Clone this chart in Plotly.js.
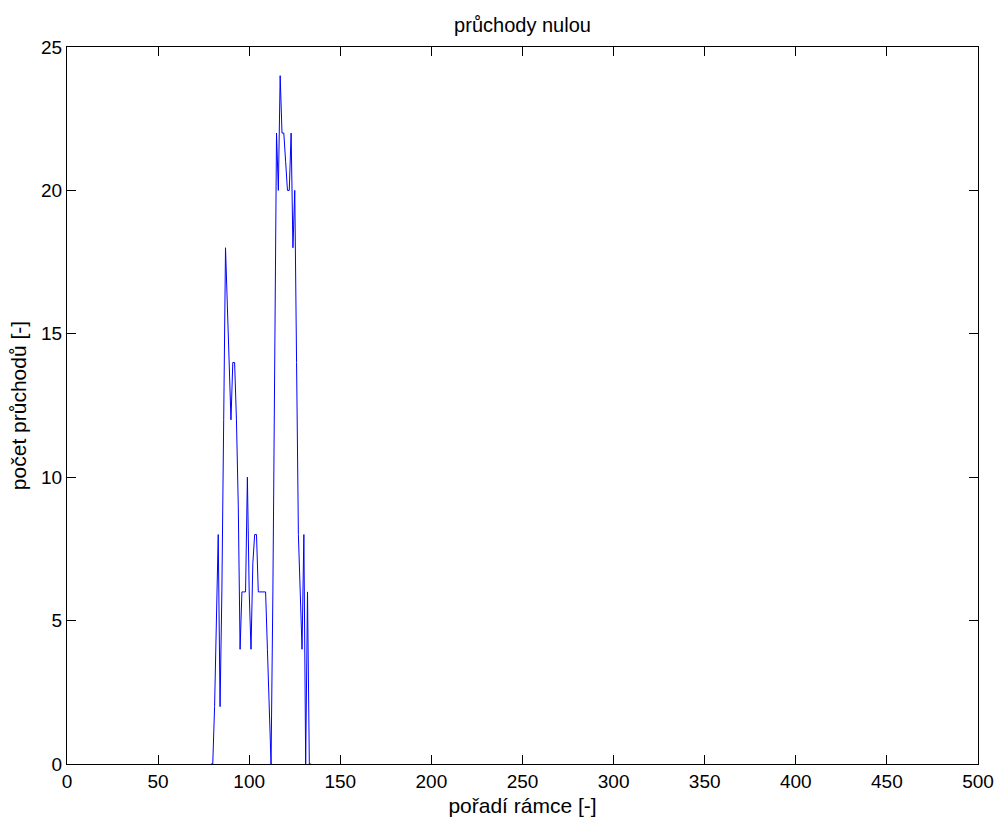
<!DOCTYPE html>
<html>
<head>
<meta charset="utf-8">
<script src="https://cdn.plot.ly/plotly-3.0.1.min.js"></script>
<style>html,body{margin:0;padding:0;background:#fff;}#chart{width:998px;height:820px;}</style>
</head>
<body>
<div id="chart"></div>
<script>
// frame index (pořadí rámce)
var frames = [79, 80, 81, 82, 83, 84, 85, 86, 87, 88, 89, 90, 91, 92, 93, 94, 95, 96, 97, 98,
              99, 100, 101, 102, 103, 104, 105, 106, 107, 108, 109, 110, 111, 112, 113, 114, 115, 116, 117, 118,
              119, 120, 121, 122, 123, 124, 125, 126, 127, 128, 129, 130, 131, 132, 133, 134];
// zero crossings per frame (počet průchodů)
var crossings = [0, 0, 2, 5, 8, 2, 6, 12, 18, 16, 14, 12, 14, 14, 12, 9, 4, 6, 6, 6,
                 10, 6, 4, 7, 8, 8, 6, 6, 6, 6, 6, 4, 2, 0, 6, 14, 22, 20, 24, 22,
                 22, 21, 20, 20, 22, 18, 20, 14, 8, 6, 4, 8, 0, 6, 0, 0];

var xTicks = [0, 50, 100, 150, 200, 250, 300, 350, 400, 450, 500];
var yTicks = [0, 5, 10, 15, 20, 25];

var font = 'Liberation Sans, Arial, sans-serif';

var trace = {
  x: frames,
  y: crossings,
  type: 'scatter',
  mode: 'lines',
  line: {color: '#0000ff', width: 1},
  hoverinfo: 'skip'
};

var axisCommon = {
  showline: true,
  linecolor: '#000',
  linewidth: 1,
  mirror: 'ticks',
  ticks: 'inside',
  ticklen: 9,
  tickwidth: 1,
  tickcolor: '#000',
  showgrid: false,
  zeroline: false,
  tickfont: {family: font, size: 19, color: '#000'}
};

var layout = {
  width: 998,
  height: 820,
  margin: {l: 67, r: 20, t: 47, b: 56},
  paper_bgcolor: '#fff',
  plot_bgcolor: '#fff',
  showlegend: false,
  title: {
    text: 'průchody nulou',
    font: {family: font, size: 20, color: '#000'},
    x: 0.5, xanchor: 'center', xref: 'paper',
    y: 1 - 25/820, yanchor: 'middle'
  },
  xaxis: Object.assign({}, axisCommon, {
    range: [0, 500],
    tickmode: 'array',
    tickvals: xTicks,
    ticktext: xTicks.map(String),
    title: {text: 'pořadí rámce [-]', font: {family: font, size: 21, color: '#000'}, standoff: 7}
  }),
  yaxis: Object.assign({}, axisCommon, {
    range: [0, 25],
    tickmode: 'array',
    tickvals: yTicks,
    ticktext: yTicks.map(String),
    title: {text: 'počet průchodů [-]', font: {family: font, size: 21, color: '#000'}, standoff: 8}
  })
};

Plotly.newPlot('chart', [trace], layout, {displayModeBar: false, staticPlot: true});
</script>
</body>
</html>
